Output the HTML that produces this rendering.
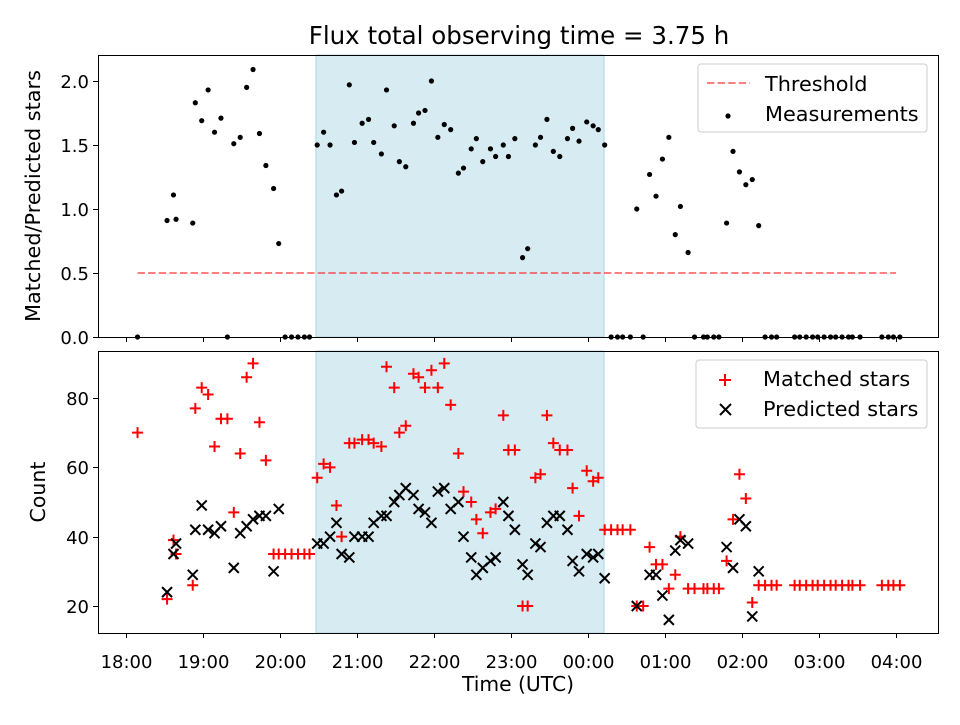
<!DOCTYPE html>
<html><head><meta charset="utf-8"><style>
body{margin:0;background:#fff}
svg text{font-family:"DejaVu Sans","Liberation Sans",sans-serif;fill:#000}
</style></head><body>
<svg id="chart" width="960" height="720" xmlns="http://www.w3.org/2000/svg"></svg>
<script>
// minutes since 18:00 UTC
const times=[9,32,37,39,52,54,59,64,69,74,
79,84,89,94,99,104,109,115,119,124,
129,134,139,143,149,154,159,164,168,174,
178,184,189,193,199,203,209,213,218,224,
228,233,238,243,248,253,259,263,269,273,
278,284,288,294,298,303,309,313,319,323,
328,333,338,344,348,353,359,364,368,373,
378,383,387,393,398,403,408,413,418,423,
428,432,438,443,450,453,458,462,468,473,
478,483,488,493,498,503,507,521,525,530,
535,539,544,549,553,558,563,566,572,589,
594,598,603];
const ratio=[0,0.91,1.11,0.92,0.89,1.83,1.69,1.93,1.60,1.71,
0,1.51,1.56,1.95,2.09,1.59,1.34,1.16,0.73,0,
0,0,0,0,1.50,1.60,1.50,1.11,1.14,1.97,
1.52,1.67,1.70,1.52,1.43,1.93,1.65,1.37,1.33,1.67,
1.75,1.77,2.00,1.56,1.66,1.62,1.28,1.32,1.47,1.55,
1.37,1.47,1.41,1.50,1.41,1.55,0.62,0.69,1.50,1.56,
1.70,1.45,1.41,1.55,1.63,1.53,1.68,1.65,1.62,1.50,
0,0,0,0,1.00,0,1.27,1.10,1.39,1.56,
0.80,1.02,0.66,0,0,0,0,0,0.89,1.45,
1.29,1.19,1.23,0.87,0,0,0,0,0,0,
0,0,0,0,0,0,0,0,0,0,
0,0,0];
const matched=[70,22,39,35,26,77,83,81,66,74,
74,47,64,86,90,73,62,35,35,35,
35,35,35,35,57,61,60,49,40,67,
67,68,68,67,66,89,83,70,72,87,
86,83,88,83,90,78,64,53,50,45,
41,47,48,75,65,65,20,20,57,58,
75,67,65,65,54,46,59,56,57,42,
42,42,42,42,20,20,37,32,32,25,
29,40,25,25,25,25,25,25,33,45,
58,51,21,26,26,26,26,26,26,26,
26,26,26,26,26,26,26,26,26,26,
26,26,26];
const predicted=[null,24,35,38,29,42,49,42,41,43,
null,31,41,43,45,46,46,30,48,null,
null,null,null,null,38,38,40,44,35,34,
40,40,40,44,46,46,50,52,54,52,
48,47,44,53,54,48,50,40,34,29,
31,33,34,50,46,42,32,29,38,37,
44,46,46,42,33,30,35,34,35,28,
null,null,null,null,20,null,29,29,23,16,
36,39,38,null,null,null,null,null,37,31,
45,43,17,30,null,null,null,null,null,null,
null,null,null,null,null,null,null,null,null,null,
null,null,null];
const xTickLabels=["18:00","19:00","20:00","21:00","22:00","23:00","00:00","01:00","02:00","03:00","04:00"];
const topTicks=[0,0.5,1.0,1.5,2.0];
const botTicks=[20,40,60,80];
const threshold=0.5, thrStart=9, thrEnd=600;
const shadeStart=148, shadeEnd=372.5;

const NS="http://www.w3.org/2000/svg";
const svg=document.getElementById('chart');
function mk(tag,attrs,parent){const e=document.createElementNS(NS,tag);for(const k in attrs)e.setAttribute(k,attrs[k]);(parent||svg).appendChild(e);return e;}
const L=98,R=938,T1=55,B1=337,T2=351,B2=633;
const xS=m=>126+m*77/60;
const y1=v=>B1-v*128;
const y2=v=>606-(v-20)*(208/60);

[[T1,B1],[T2,B2]].forEach(([t,b],i)=>{
 const r=mk('rect',{x:xS(shadeStart),y:t,width:xS(shadeEnd)-xS(shadeStart),height:b-t,fill:'#add8e6','fill-opacity':0.5,stroke:'#add8e6'});
 
 
});
const th=mk('line',{x1:xS(thrStart),x2:xS(thrEnd),y1:y1(threshold),y2:y1(threshold),stroke:'#ff0000','stroke-opacity':0.5,'stroke-width':2,'stroke-dasharray':'7.4,3.2'});


times.forEach((t,i)=>{
 const c=mk('circle',{cx:xS(t),cy:y1(ratio[i]),r:2.6,fill:'#000'});
 
 
});
times.forEach((t,i)=>{
 const x=xS(t),y=y2(matched[i]);
 const p=mk('path',{d:`M${x-5.5},${y}H${x+5.5}M${x},${y-5.5}V${y+5.5}`,stroke:'#ff0000','stroke-width':2});
 
 
});
times.forEach((t,i)=>{
 if(predicted[i]===null)return;
 const x=xS(t),y=y2(predicted[i]);
 const p=mk('path',{d:`M${x-5},${y-5}L${x+5},${y+5}M${x-5},${y+5}L${x+5},${y-5}`,stroke:'#000','stroke-width':2});
 
 
});
[[T1,B1],[T2,B2]].forEach(([t,b],i)=>{
 const r=mk('rect',{x:L+0.5,y:t+0.5,width:R-L,height:b-t,fill:'none',stroke:'#000','stroke-width':1});
 
 
});
xTickLabels.forEach((lab,i)=>{
 const x=Math.round(xS(i*60))+0.5;
 mk('line',{x1:x,x2:x,y1:B1,y2:B1+5,stroke:'#000'});
 mk('line',{x1:x,x2:x,y1:B2,y2:B2+5,stroke:'#000'});
 const tx=mk('text',{x:x,y:B2+35,'text-anchor':'middle','font-size':18});
 tx.textContent=lab;
 
 
});
topTicks.forEach(v=>{
 const y=Math.round(y1(v))+0.5;
 mk('line',{x1:L-5,x2:L,y1:y,y2:y,stroke:'#000'});
 const tx=mk('text',{x:L-9,y:y+6.5,'text-anchor':'end','font-size':18});
 tx.textContent=v.toFixed(1);
 
 
});
botTicks.forEach(v=>{
 const y=Math.round(y2(v))+0.5;
 mk('line',{x1:L-5,x2:L,y1:y,y2:y,stroke:'#000'});
 const tx=mk('text',{x:L-9,y:y+6.5,'text-anchor':'end','font-size':18});
 tx.textContent=v;
 
 
});
</script>
<svg width="960" height="720" style="position:absolute;left:0;top:0" xmlns="http://www.w3.org/2000/svg">
 <text x="519" y="44" text-anchor="middle" font-size="24.5">Flux total observing time = 3.75 h</text>
 <text x="518" y="691" text-anchor="middle" font-size="20.3">Time (UTC)</text>
 <text transform="translate(40,196) rotate(-90)" text-anchor="middle" font-size="20.8">Matched/Predicted stars</text>
 <text transform="translate(45,492) rotate(-90)" text-anchor="middle" font-size="20.5">Count</text>
 <g>
  <rect x="698" y="64" width="229" height="68" rx="3" fill="#fff" fill-opacity="0.8" stroke="#ccc"/>
  <line x1="707" x2="750" y1="83" y2="83" stroke="#ff0000" stroke-opacity="0.5" stroke-width="2" stroke-dasharray="7.4,3.2"/>
  <text x="765" y="91" font-size="20.8">Threshold</text>
  <circle cx="728" cy="116" r="2.6" fill="#000"/>
  <text x="765" y="121" font-size="20.8">Measurements</text>
 </g>
 <g>
  <rect x="696" y="360" width="231" height="68" rx="3" fill="#fff" fill-opacity="0.8" stroke="#ccc"/>
  <path d="M719,380H731M725,374V386" stroke="#ff0000" stroke-width="2"/>
  <text x="763" y="386" font-size="20.8">Matched stars</text>
  <path d="M720,404L731,415M720,415L731,404" stroke="#000" stroke-width="2"/>
  <text x="763" y="416" font-size="20.8">Predicted stars</text>
 </g>
</svg>
</body></html>
